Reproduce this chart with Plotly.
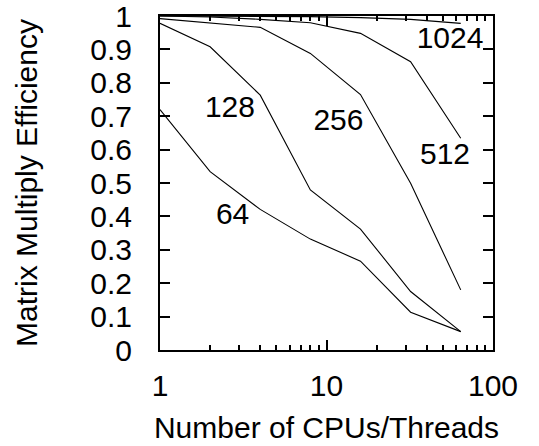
import plotly.graph_objects as go

# CPU / thread counts
cpus = [1, 2, 4, 8, 16, 32, 64]

# efficiency per matrix size
eff_64 = [0.72, 0.534, 0.421, 0.332, 0.266, 0.113, 0.055]
eff_128 = [0.978, 0.908, 0.763, 0.479, 0.362, 0.175, 0.055]
eff_256 = [0.992, 0.98, 0.966, 0.888, 0.765, 0.499, 0.18]
eff_512 = [1.0, 0.997, 0.99, 0.98, 0.948, 0.863, 0.634]
eff_1024 = [1.0, 1.0, 1.0, 0.998, 0.995, 0.99, 0.978]

series = [eff_64, eff_128, eff_256, eff_512, eff_1024]

# curve labels and where they sit (data coords)
label_text = ["64", "128", "256", "512", "1024"]
label_x = [2.73, 2.63, 11.8, 51.5, 55.2]
label_y = [0.40, 0.72, 0.68, 0.58, 0.928]

y_ticks = [0, 0.1, 0.2, 0.3, 0.4, 0.5, 0.6, 0.7, 0.8, 0.9, 1]
y_tick_text = ["0", "0.1", "0.2", "0.3", "0.4", "0.5", "0.6", "0.7", "0.8", "0.9", "1"]
x_major = [1, 10, 100]
x_minor = [2, 3, 4, 5, 6, 7, 8, 9, 20, 30, 40, 50, 60, 70, 80, 90]

FONT = "Liberation Sans, Arial, sans-serif"
FS = 30

fig = go.Figure()
for ys in series:
    fig.add_trace(go.Scatter(x=cpus, y=ys, mode="lines",
                             line=dict(color="black", width=1.1), hoverinfo="skip"))

fig.add_trace(go.Scatter(x=label_x, y=label_y, mode="text", text=label_text,
                         textfont=dict(family=FONT, size=FS, color="black"),
                         hoverinfo="skip"))

fig.update_xaxes(
    type="log", range=[0, 2], automargin=False,
    tickmode="array", tickvals=x_major, ticktext=["1", "10", "100"],
    ticks="inside", ticklen=10, tickwidth=1.5, tickcolor="black",
    minor=dict(tickmode="array", tickvals=x_minor, ticks="inside", ticklen=5,
               tickwidth=1.5, tickcolor="black", showgrid=False),
    showline=True, linecolor="black", linewidth=2, mirror="ticks",
    showgrid=False, zeroline=False,
    ticklabelstandoff=8, ticklabeloverflow="allow",
    title=dict(text="Number of CPUs/Threads", standoff=16,
               font=dict(family=FONT, size=FS, color="black")),
    tickfont=dict(family=FONT, size=FS, color="black"),
)
fig.update_yaxes(
    range=[0, 1], automargin=False,
    tickmode="array", tickvals=y_ticks, ticktext=y_tick_text,
    ticks="inside", ticklen=10, tickwidth=1.5, tickcolor="black",
    showline=True, linecolor="black", linewidth=2, mirror="ticks",
    showgrid=False, zeroline=False,
    ticklabelstandoff=20, ticklabeloverflow="allow",
    title=dict(text="Matrix Multiply Efficiency", standoff=44,
               font=dict(family=FONT, size=FS, color="black")),
    tickfont=dict(family=FONT, size=FS, color="black"),
)

fig.update_layout(
    width=539, height=446,
    margin=dict(l=160, r=46, t=16, b=96),
    plot_bgcolor="white", paper_bgcolor="white",
    showlegend=False,
)

# drop the default body margin so the figure sits at the page corner
fig.write_html("out.html", config={"displayModeBar": False},
               post_script="document.body.style.margin='0';")
